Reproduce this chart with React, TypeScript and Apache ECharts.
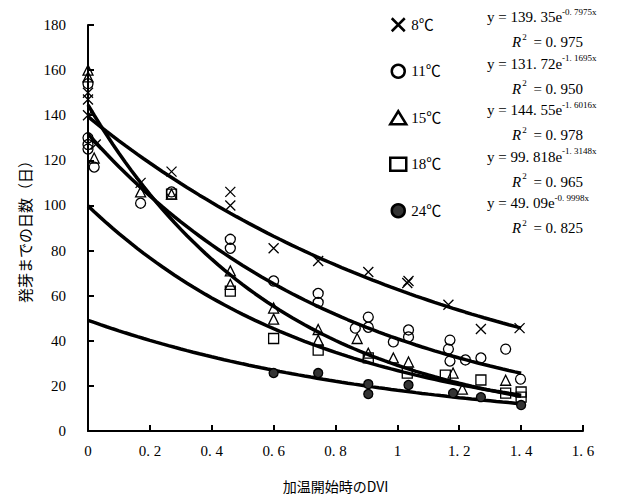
import React, { useEffect, useRef } from "react";
import * as echarts from "echarts";

const seriesNames = ["8℃", "11℃", "15℃", "18℃", "24℃"];

const pts8: number[][] = [
  [0, 150], [0, 147], [0, 140], [0.025, 127], [0.17, 110], [0.27, 115],
  [0.46, 106], [0.46, 100], [0.6, 81], [0.744, 75.4], [0.906, 70.5],
  [1.032, 65.6], [1.036, 66.5], [1.165, 56], [1.27, 45.2], [1.395, 45.6],
];
const pts11: number[][] = [
  [0, 154], [0, 130], [0, 127], [0, 125], [0.02, 117], [0.17, 101], [0.27, 106],
  [0.46, 85], [0.46, 81], [0.6, 66.5], [0.744, 61], [0.744, 57], [0.864, 45.6],
  [0.906, 50.5], [0.906, 46], [0.987, 39.5], [1.036, 44.8], [1.036, 41.7],
  [1.17, 40.3], [1.165, 36.3], [1.17, 31], [1.22, 31.5], [1.27, 32.4],
  [1.35, 36.3], [1.398, 23],
];
const pts15: number[][] = [
  [0, 160], [0, 157], [0.02, 121], [0.17, 106], [0.27, 105], [0.46, 71],
  [0.46, 65], [0.6, 54.5], [0.6, 49.6], [0.744, 45], [0.744, 40.3], [0.87, 41],
  [0.906, 34.5], [0.987, 32.4], [1.036, 30.6], [1.18, 25.7], [1.21, 18.6],
  [1.35, 22.5],
];
const pts18: number[][] = [
  [0.27, 105], [0.46, 62], [0.6, 41], [0.744, 35.9], [0.906, 32.4],
  [1.032, 25.7], [1.155, 24.8], [1.27, 22.6], [1.35, 16.8], [1.4, 17.3], [1.4, 15],
];
const pts24: number[][] = [
  [0.6, 25.7], [0.744, 25.7], [0.906, 20.8], [0.906, 16.4], [1.036, 20.4],
  [1.18, 16.8], [1.27, 15], [1.4, 11.5],
];
const allPoints = [pts8, pts11, pts15, pts18, pts24];

// Fitted exponential trend lines shown in the chart: y = a * e^(b x)
const fitA = [139.35, 131.72, 144.55, 99.818, 49.09];
const fitB = [-0.7975, -1.1695, -1.6016, -1.3148, -0.9998];
const fitR2 = [0.975, 0.95, 0.978, 0.965, 0.825];
const fitXMax = 1.4;

const xTicks = { min: 0, max: 1.6, interval: 0.2 };
const yTicks = { min: 0, max: 180, interval: 20 };

const FONT = "'Liberation Serif', 'Noto Sans CJK JP', serif";
const CJK = "'Noto Sans CJK JP', 'Liberation Serif', serif";

const fmt = (s: string) => s.replace(".", ". ");

const symbols = [
  "path://M0 0L10 10M10 0L0 10",
  "circle",
  "triangle",
  "rect",
  "circle",
];
const fills = ["rgba(0,0,0,0)", "rgba(0,0,0,0)", "rgba(0,0,0,0)", "rgba(0,0,0,0)", "#333"];
const sizes = [10, 10, 10, 10, 9];

export default function App() {
  const ref = useRef<HTMLDivElement>(null);
  useEffect(() => {
    if (!ref.current) return;
    const chart = echarts.init(ref.current, null, { renderer: "svg" });

    const scatterSeries = allPoints.map((pts, i) => ({
      name: seriesNames[i],
      type: "scatter",
      data: pts,
      symbol: symbols[i],
      symbolSize: sizes[i],
      z: 3,
      itemStyle: {
        color: fills[i],
        borderColor: "#000",
        borderWidth: 1.3,
        opacity: 1,
      },
    }));

    const lineSeries = fitA.map((a, i) => {
      const data: number[][] = [];
      const steps = 70;
      for (let k = 0; k <= steps; k++) {
        const x = (fitXMax * k) / steps;
        data.push([x, a * Math.exp(fitB[i] * x)]);
      }
      return {
        name: "fit" + i,
        type: "line",
        data,
        showSymbol: false,
        smooth: false,
        z: 2,
        lineStyle: { color: "#000", width: 3.5 },
        silent: true,
      };
    });

    const rowGap = 46.5;
    const graphic: any[] = [];
    fitA.forEach((a, i) => {
      graphic.push({
        type: "text",
        left: 487,
        top: 7 + i * rowGap,
        style: {
          text: `{m|y = ${fmt(String(a))}e}{s|${fmt(String(fitB[i]))}x}`,
          rich: {
            m: { fontSize: 15, fontFamily: FONT, lineHeight: 20, fill: "#000" },
            s: { fontSize: 9, fontFamily: FONT, lineHeight: 10, verticalAlign: "top", fill: "#000" },
          },
        },
      });
      graphic.push({
        type: "text",
        left: 512,
        top: 32 + i * rowGap,
        style: {
          text: `{r|R}{s|2}{m| = ${fmt(fitR2[i].toFixed(3))}}`,
          rich: {
            r: { fontSize: 15, fontStyle: "italic", fontFamily: FONT, lineHeight: 20, fill: "#000" },
            s: { fontSize: 9, fontFamily: FONT, lineHeight: 10, verticalAlign: "top", fill: "#000", padding: [0, 3, 0, 1] },
            m: { fontSize: 15, fontFamily: FONT, lineHeight: 20, fill: "#000" },
          },
        },
      });
    });

    chart.setOption({
      animation: false,
      backgroundColor: "#fff",
      grid: { left: 88, right: 43, top: 25, bottom: 72 },
      legend: {
        data: seriesNames,
        orient: "vertical",
        left: 384,
        top: 12,
        itemGap: 31,
        itemWidth: 16,
        itemHeight: 13,
        textStyle: { fontSize: 15, fontFamily: FONT, color: "#000" },
        itemStyle: { borderWidth: 2.5, borderColor: "#000" },
      },
      xAxis: {
        type: "value",
        min: xTicks.min,
        max: xTicks.max,
        interval: xTicks.interval,
        name: "加温開始時のDVI",
        nameLocation: "middle",
        nameGap: 48,
        nameTextStyle: { fontSize: 14, fontFamily: CJK, color: "#000" },
        axisLine: { show: true, lineStyle: { color: "#000", width: 2 } },
        axisTick: { show: true, inside: true, length: 6, lineStyle: { color: "#000", width: 2 } },
        splitLine: { show: false },
        axisLabel: {
          margin: 12,
          fontSize: 15,
          fontFamily: FONT,
          color: "#000",
          formatter: (v: number) => fmt(String(+v.toFixed(1))),
        },
      },
      yAxis: {
        type: "value",
        min: yTicks.min,
        max: yTicks.max,
        interval: yTicks.interval,
        name: "発芽までの日数（日）",
        nameLocation: "middle",
        nameRotate: 90,
        nameGap: 56,
        nameTextStyle: { fontSize: 15, fontFamily: CJK, color: "#000" },
        axisLine: { show: true, lineStyle: { color: "#000", width: 2 } },
        axisTick: { show: true, inside: true, length: 6, lineStyle: { color: "#000", width: 2 } },
        splitLine: { show: false },
        axisLabel: { margin: 22, fontSize: 15, fontFamily: FONT, color: "#000" },
      },
      graphic,
      series: [...lineSeries, ...scatterSeries],
    });
    return () => chart.dispose();
  }, []);
  return <div ref={ref} style={{ width: 626, height: 503, margin: -8 }} />;
}
